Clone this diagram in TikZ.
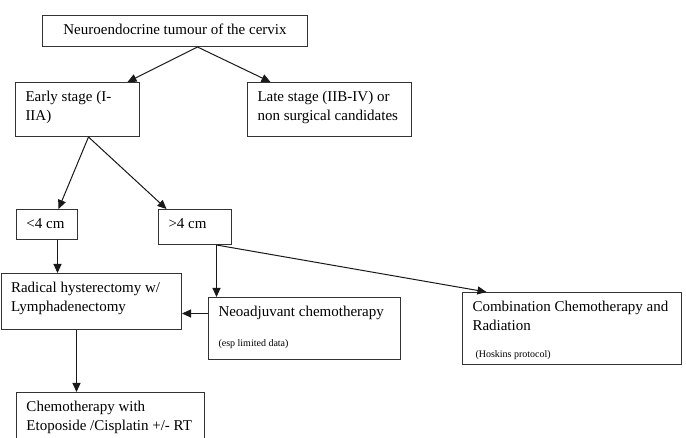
\documentclass[tikz,border=0pt]{standalone}
\usepackage{fontspec}
\setmainfont{Liberation Serif}
\usetikzlibrary{arrows.meta}

\begin{document}
\begin{tikzpicture}[
        x=1pt, y=-1pt,
        box/.style={rectangle, draw=black!80, line width=1pt, anchor=north west, inner xsep=10pt, inner ysep=5.5pt, font=\fontsize{15}{19.3}\selectfont},
        arrow/.style={-{Triangle[length=9pt, width=8pt]}, line width=1pt, black!90}
    ]
        \useasboundingbox (0,0) rectangle (686,438);

        % Top of the tree
        \node[box] (tumour) at (42,15) {
            \begin{minipage}[c][20pt][t]{245pt}
                \centering
                \strut Neuroendocrine tumour of the cervix
            \end{minipage}
        };

        % Stages
        \node[box] (early) at (15,82) {
            \begin{minipage}[c][43pt][t]{104pt}
                \raggedright
                \strut Early stage (I-\\IIA)
            \end{minipage}
        };
        \node[box] (late) at (247,82) {
            \begin{minipage}[c][43pt][t]{144pt}
                \raggedright
                \strut Late stage (IIB-IV) or\\non surgical candidates
            \end{minipage}
        };

        % Tumour size
        \node[box] (lt4) at (16,209) {
            \begin{minipage}[c][19pt][t]{41pt}
                \raggedright
                \strut <4 cm
            \end{minipage}
        };
        \node[box] (gt4) at (158,209) {
            \begin{minipage}[c][24pt][t]{53pt}
                \raggedright
                \strut >4 cm
            \end{minipage}
        };

        % Treatments
        \node[box] (radical) at (0.5,273) {
            \begin{minipage}[c][45pt][t]{160.5pt}
                \raggedright
                \strut Radical hysterectomy w/\\Lymphadenectomy
            \end{minipage}
        };
        \node[box] (neo) at (208,297) {
            \begin{minipage}[c][51pt][t]{172pt}
                \raggedright
                \strut Neoadjuvant chemotherapy\par
                \vspace{16pt}
                {\fontsize{10}{12}\selectfont (esp limited data)\par}
            \end{minipage}
        };
        \node[box] (combo) at (462,292) {
            \begin{minipage}[c][61pt][t]{199pt}
                \raggedright
                \strut Combination Chemotherapy and\\Radiation\par
                \vspace{15pt}
                {\fontsize{10}{12}\selectfont \hspace*{3pt}(Hoskins protocol)\par}
            \end{minipage}
        };
        \node[box] (chemo) at (16,392) {
            \begin{minipage}[c][49pt][t]{168pt}
                \raggedright
                \strut Chemotherapy with\\Etoposide /Cisplatin +/- RT
            \end{minipage}
        };

        % Arrows
        \draw[arrow] ([xshift=22.5pt]tumour.south) -- ([xshift=50pt]early.north);
        \draw[arrow] ([xshift=22.5pt]tumour.south) -- ([xshift=-59pt]late.north);
        \draw[arrow] ([xshift=11pt]early.south) -- ([xshift=11.5pt]lt4.north);
        \draw[arrow] ([xshift=11pt]early.south) -- ([xshift=-28.5pt]gt4.north);

        \coordinate (lt4-out) at ([xshift=10.5pt]lt4.south);
        \draw[arrow] (lt4-out) -- (lt4-out |- radical.north);

        \coordinate (gt4-out) at ([xshift=21.5pt]gt4.south);
        \draw[arrow] (gt4-out) -- (gt4-out |- neo.north);
        \draw[arrow] (gt4-out) -- ([xshift=-85.5pt]combo.north);

        \coordinate (neo-in) at ([yshift=15pt]neo.west);
        \draw[arrow] (neo-in) -- (neo-in -| radical.east);

        \coordinate (rad-out) at ([xshift=-14.75pt]radical.south);
        \draw[arrow] (rad-out) -- (rad-out |- chemo.north);

    \end{tikzpicture}
\end{document}
